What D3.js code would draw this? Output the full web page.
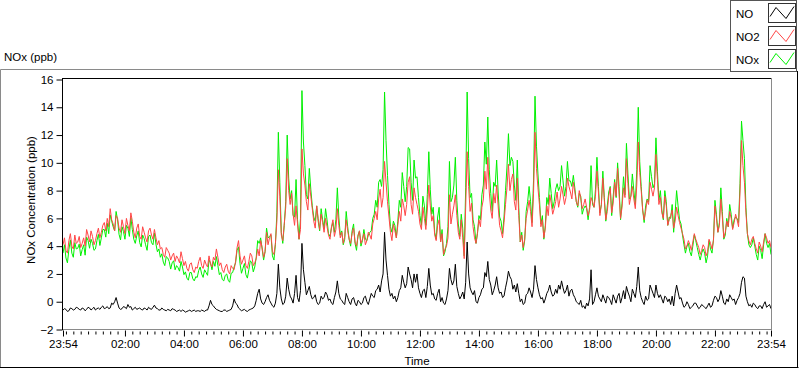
<!DOCTYPE html>
<html><head><meta charset="utf-8">
<script src="https://cdn.jsdelivr.net/npm/d3@7"></script>
<style>
body{margin:0;background:#fff;}
svg{display:block;font-family:"Liberation Sans",Arial,sans-serif;}
</style></head><body>
<svg id="c" width="800" height="369"></svg>
<script>
const seriesNames = ["NO", "NO2", "NOx"];
const seriesColors = ["#000000", "#ff4646", "#00f000"];
const startClock = [23, 54];
const stepMinutes = 3; // samples alternate: *_a at 0,6,12.. min, *_b at 3,9,15.. min after 23:54
const yTicks = [-2, 0, 2, 4, 6, 8, 10, 12, 14, 16];
const xTickLabels = ["23:54","02:00","04:00","06:00","08:00","10:00","12:00","14:00","16:00","18:00","20:00","22:00","23:54"];
const titleText = "NOx (ppb)";
const yLabelText = "NOx Concentration (ppb)";
const xLabelText = "Time";

const NO_a = [
-0.6,-0.55,-0.65,-0.5,-0.55,-0.45,-0.6,-0.5,-0.55,-0.45,
-0.5,-0.6,-0.45,-0.4,-0.5,-0.35,-0.45,-0.2,0.3,-0.45,
-0.5,-0.4,-0.2,-0.35,-0.5,-0.55,-0.45,-0.6,-0.5,-0.4,
-0.55,-0.25,-0.5,-0.6,-0.55,-0.65,-0.6,-0.5,-0.6,-0.65,
-0.7,-0.65,-0.7,-0.6,-0.65,-0.7,-0.65,-0.6,-0.7,-0.6,
0.1,-0.3,-0.55,-0.65,-0.7,-0.6,-0.65,-0.55,0.2,-0.2,
-0.55,
-0.6,-0.65,-0.6,-0.5,-0.3,0.6,0.2,-0.2,0.3,0.1,
-0.3,-0.1,2.7,0.2,-0.1,1.7,0.4,-0.1,1.9,0.0,
4.2,1.4,0.8,0.5,0.3,0.0,-0.1,0.2,0.7,0.1,
-0.1,0.3,1.5,0.2,-0.1,0.6,0.0,0.2,-0.1,0.1,
-0.2,0.3,0.0,0.2,0.4,0.8,1.2,1.5,5.0,1.9,
0.4,0.2,0.0,0.8,1.9,1.0,2.5,1.6,2.0,2.0,
0.6,0.8,0.3,2.4,0.5,0.2,0.6,0.0,-0.1,0.2,
2.4,1.2,2.7,0.6,0.4,0.2,4.3,1.0,0.5,0.0,
0.3,0.9,2.1,2.9,1.2,0.8,1.8,0.6,0.3,1.0,
2.2,1.6,1.2,1.3,0.0,-0.2,0.5,1.0,0.3,2.6,
1.0,0.2,-0.1,0.6,1.2,0.4,0.9,1.2,1.5,0.6,
1.2,0.8,0.5,0.0,-0.2,-0.4,-0.5,-0.3,2.3,0.0,
1.0,0.2,0.5,-0.1,0.3,-0.2,0.2,0.4,-0.1,0.8,
1.1,0.4,0.9,0.3,2.5,0.3,-0.2,0.1,1.2,0.6,
1.2,0.3,0.2,0.4,0.0,-0.2,-0.3,1.2,0.2,-0.1,
-0.3,-0.2,-0.4,-0.1,-0.3,-0.4,-0.3,-0.5,-0.1,-0.3,
0.4,0.0,0.8,-0.1,0.2,0.5,0.1,-0.2,0.3,1.4,
1.7,0.0,-0.2,-0.1,-0.4,-0.3,-0.5,0.0,-0.3,-0.5
];
const NO_b = [
-0.5,-0.7,-0.45,-0.6,-0.4,-0.55,-0.45,-0.65,-0.4,-0.6,
-0.4,-0.5,-0.55,-0.3,-0.45,-0.5,-0.1,0.0,-0.1,-0.55,
-0.35,-0.5,-0.4,-0.6,-0.4,-0.5,-0.55,-0.45,-0.6,-0.5,
-0.4,-0.45,-0.6,-0.45,-0.6,-0.55,-0.65,-0.55,-0.7,-0.6,
-0.6,-0.75,-0.65,-0.7,-0.6,-0.65,-0.7,-0.65,-0.6,-0.3,
-0.2,-0.45,-0.6,-0.7,-0.6,-0.7,-0.6,-0.3,-0.1,-0.45,
-0.65,-0.55,-0.7,-0.55,-0.45,0.1,0.9,-0.1,0.0,0.5,
-0.1,-0.4,0.6,1.0,-0.2,0.4,0.9,0.2,0.6,0.3,
0.8,2.3,0.5,1.1,0.2,0.5,-0.2,0.4,0.3,0.5,
0.2,-0.2,0.7,0.6,0.1,-0.2,0.3,-0.2,0.3,-0.3,
0.0,-0.1,0.4,-0.2,0.6,0.3,0.9,0.7,2.0,3.0,
0.9,0.6,0.4,0.3,1.0,1.4,1.3,2.0,1.0,1.4,
1.0,0.3,0.9,1.1,1.2,0.6,0.1,0.9,0.3,-0.2,
0.8,1.6,1.5,1.1,0.2,0.7,1.4,2.0,0.7,0.8,
-0.1,0.5,1.0,1.8,1.6,0.5,1.2,1.0,0.7,0.4,
1.5,1.8,0.9,0.7,0.6,0.2,-0.1,0.6,0.7,0.9,
1.6,0.5,0.3,0.2,0.8,0.7,0.5,0.6,0.9,1.0,
0.8,0.4,0.9,0.3,-0.1,0.1,-0.3,-0.1,0.2,-0.2,
0.5,0.4,0.0,0.2,0.4,0.1,0.5,-0.1,0.6,0.3,
0.2,0.7,0.0,0.6,1.1,0.8,0.0,0.4,0.2,0.9,
0.3,0.6,0.5,-0.1,0.3,0.2,0.4,0.6,0.7,0.3,
-0.4,0.0,-0.5,-0.3,-0.1,-0.5,-0.2,-0.4,-0.3,-0.4,
0.1,0.3,0.2,0.4,-0.2,0.0,0.3,0.2,0.1,0.6,
1.8,0.4,-0.3,-0.4,-0.2,-0.5,-0.3,-0.2,-0.4,-0.2
];

const NO2_a = [
4.1,3.7,4.4,4.0,4.8,4.3,3.9,4.6,5.2,4.3,
4.7,4.4,5.3,5.0,5.7,6.0,6.7,5.6,6.2,5.3,
5.9,4.9,5.5,6.4,5.0,5.3,4.7,5.4,4.6,5.1,
4.8,5.2,4.1,3.8,3.4,3.9,3.5,3.3,2.9,3.1,
3.6,2.6,2.4,2.7,2.3,2.5,2.9,2.6,3.0,2.5,
2.7,3.2,3.8,2.6,2.3,2.5,2.2,2.6,2.3,3.9,
3.3,
3.0,2.6,2.9,3.3,2.8,3.8,4.4,3.2,5.0,4.6,
3.6,4.2,9.5,4.8,5.6,10.3,7.0,6.3,6.9,4.5,
11.0,8.4,6.6,7.6,5.8,6.9,5.2,5.7,6.0,4.8,
5.4,4.7,6.7,4.6,4.2,5.9,4.5,4.9,4.3,4.7,
4.2,4.9,4.4,4.8,5.6,6.5,7.4,6.8,10.1,7.2,
5.0,5.6,4.6,6.5,7.4,6.2,8.6,7.0,8.2,7.0,
5.6,6.8,5.2,8.4,5.8,4.8,5.5,4.3,3.4,4.0,
7.7,6.3,7.7,5.0,5.9,3.1,10.8,6.5,5.4,4.2,
5.9,6.8,9.4,10.4,6.6,7.8,8.4,5.5,4.6,7.0,
9.9,8.8,7.2,8.9,4.3,3.9,6.0,7.3,5.4,12.2,
8.2,5.4,4.6,6.9,7.7,6.3,7.2,6.8,8.3,7.0,
8.9,7.9,8.6,7.2,8.0,6.7,7.4,6.2,7.5,6.8,
9.4,6.2,8.9,5.9,7.6,6.4,8.6,9.6,6.0,8.2,
10.3,7.0,8.3,6.7,11.5,8.0,5.9,7.3,8.6,7.6,
10.6,7.0,6.4,7.6,5.5,6.2,5.3,6.8,5.7,4.9,
3.8,4.4,3.7,4.9,4.2,3.4,4.1,3.3,4.5,3.8,
6.9,5.0,7.4,4.6,5.8,6.5,5.2,6.3,5.4,11.6,
8.6,4.9,4.1,4.7,3.8,4.3,3.6,4.9,4.2,3.9
];
const NO2_b = [
4.6,3.5,4.9,3.8,4.2,4.7,4.2,4.0,4.8,5.1,
4.1,4.9,4.6,5.5,5.1,5.4,5.9,5.1,6.0,5.0,
5.4,6.0,5.1,5.8,4.6,5.6,4.5,5.0,4.3,5.3,
4.5,4.6,4.4,3.9,3.2,3.7,3.0,3.5,3.3,2.8,
3.1,2.9,2.2,2.8,2.1,2.4,3.2,2.4,2.7,3.3,
2.5,3.0,3.2,2.8,2.1,2.7,2.0,2.4,2.9,4.4,
2.7,3.3,2.4,3.5,2.6,3.1,3.3,3.9,3.6,4.1,
4.9,3.4,5.8,7.6,4.4,6.8,8.0,7.8,5.5,5.6,
5.2,9.2,7.2,8.5,6.7,5.3,6.0,6.3,5.0,5.4,
4.5,5.9,5.2,5.5,5.0,4.7,5.1,4.2,5.3,4.0,
5.1,4.5,4.1,5.0,4.5,6.0,5.9,8.1,7.5,8.6,
6.1,4.4,5.1,5.5,5.8,6.9,7.0,9.0,6.3,7.5,
6.5,5.2,6.0,6.6,6.9,6.2,4.4,5.9,4.9,3.8,
4.6,5.6,6.9,6.2,4.5,4.6,6.8,8.3,7.1,4.6,
5.0,5.4,7.4,8.1,7.9,6.0,7.1,6.9,5.1,5.7,
8.2,8.0,9.2,6.6,6.2,4.8,4.5,6.6,6.5,7.8,
9.6,7.0,5.9,5.3,6.2,7.1,6.7,7.9,7.4,7.7,
7.5,8.3,7.4,7.9,6.9,7.5,7.0,6.8,6.6,7.2,
7.6,7.9,7.0,7.3,6.5,8.2,7.1,7.6,7.7,6.8,
7.5,8.5,7.6,7.4,8.4,9.3,6.6,6.5,7.0,8.1,
8.2,8.8,7.5,6.0,6.9,5.9,6.6,5.8,6.2,5.3,
4.5,4.0,4.1,4.3,4.5,3.9,3.7,3.9,3.6,4.2,
4.4,6.0,5.5,6.1,5.0,5.4,6.0,5.7,5.9,7.9,
9.8,6.4,4.4,4.5,4.2,3.5,4.0,4.3,4.6,4.4
];

const NOx_a = [
3.5,3.15,3.75,3.5,4.25,3.85,3.3,4.1,4.65,3.85,
4.2,3.8,4.85,4.6,5.2,5.65,6.25,5.4,6.5,4.85,
5.4,4.5,5.3,6.05,4.5,4.75,4.25,4.8,4.1,4.7,
4.25,4.95,3.6,3.2,2.85,3.25,2.9,2.8,2.3,2.45,
2.9,1.95,1.7,2.1,1.65,1.8,2.25,2.0,2.3,1.9,
2.8,2.9,3.25,1.95,1.6,1.9,1.55,2.05,2.5,3.7,
2.75,
2.4,1.95,2.3,2.8,2.5,4.4,4.6,3.0,5.3,4.7,
3.3,4.1,12.2,5.0,5.5,12.0,7.4,6.2,8.8,4.5,
15.2,9.8,7.4,8.1,6.1,6.9,5.1,5.9,6.7,4.9,
5.3,5.0,8.2,4.8,4.1,6.5,4.5,5.1,4.2,4.8,
4.0,5.2,4.4,5.0,6.0,7.3,8.6,8.3,15.1,9.1,
5.4,5.8,4.6,7.3,9.3,7.2,11.1,8.6,10.2,9.0,
6.2,7.6,5.5,10.8,6.3,5.0,6.1,4.3,3.3,4.2,
10.1,7.5,10.4,5.6,6.3,3.3,15.1,7.5,5.9,4.2,
6.2,7.7,11.5,13.3,7.8,8.6,10.2,6.1,4.9,8.0,
12.1,10.4,8.4,10.2,4.3,3.7,6.5,8.3,5.7,14.8,
9.2,5.6,4.5,7.5,8.9,6.7,8.1,8.0,9.8,7.6,
10.1,8.7,9.1,7.2,7.8,6.3,6.9,5.9,9.8,6.8,
10.4,6.4,9.4,5.8,7.9,6.2,8.8,10.0,5.9,9.0,
11.4,7.4,9.2,7.0,14.0,8.3,5.7,7.4,9.8,8.2,
11.8,7.3,6.6,8.0,5.5,6.0,5.0,8.0,5.9,4.8,
3.5,4.2,3.3,4.8,3.9,3.0,3.8,2.8,4.4,3.5,
7.3,5.0,8.2,4.5,6.0,7.0,5.3,6.1,5.7,13.0,
10.3,4.9,3.9,4.6,3.4,4.0,3.1,4.9,3.9,3.4
];
const NOx_b = [
4.1,2.8,4.45,3.2,3.8,4.15,3.75,3.35,4.4,4.5,
3.7,4.4,4.05,5.2,4.65,4.9,5.8,5.1,5.9,4.45,
5.05,5.5,4.7,5.2,4.2,5.1,3.95,4.55,3.7,4.8,
4.1,4.15,3.8,3.45,2.6,3.15,2.35,2.95,2.6,2.2,
2.5,2.15,1.55,2.1,1.5,1.75,2.5,1.75,2.1,3.0,
2.3,2.55,2.6,2.1,1.5,2.0,1.4,2.1,2.8,3.95,
2.05,2.75,1.7,2.95,2.15,3.2,4.2,3.8,3.6,4.6,
4.8,3.0,6.4,8.6,4.2,7.2,8.9,8.0,6.1,5.9,
6.0,11.5,7.7,9.6,6.9,5.8,5.8,6.7,5.3,5.9,
4.7,5.7,5.9,6.1,5.1,4.5,5.4,4.0,5.6,3.7,
5.1,4.4,4.5,4.8,5.1,6.3,6.8,8.8,9.5,11.6,
7.0,5.0,5.5,5.8,6.8,8.3,8.3,11.0,7.3,8.9,
7.5,5.5,6.9,7.7,8.1,6.8,4.5,6.8,5.2,3.6,
5.4,7.2,8.4,7.3,4.7,5.3,8.2,10.3,7.8,5.4,
4.9,5.9,8.4,9.9,9.5,6.5,8.3,7.9,5.8,6.1,
9.7,9.8,10.1,7.3,6.8,5.0,4.4,7.2,7.2,8.7,
11.2,7.5,6.2,5.5,7.0,7.8,7.2,8.5,8.3,8.7,
8.3,8.7,8.3,8.2,6.8,7.6,6.7,6.7,6.8,7.0,
8.1,8.3,7.0,7.5,6.9,8.3,7.6,7.5,8.3,7.1,
7.7,9.2,7.6,8.0,9.5,10.1,6.6,6.9,7.2,9.0,
8.5,9.4,8.0,5.9,7.2,6.1,7.0,6.4,6.9,5.6,
4.1,4.0,3.6,4.0,4.4,3.4,3.5,3.5,3.3,3.8,
4.5,6.3,5.7,6.5,4.8,5.4,6.3,5.9,6.0,8.5,
11.6,6.8,4.1,4.1,4.0,3.0,3.7,4.1,4.2,4.2
];

function interleave(a, b) {
  const out = [];
  a.forEach((v, i) => { out.push(v); if (i < b.length) out.push(b[i]); });
  return out;
}
const NO = interleave(NO_a, NO_b);
const NO2 = interleave(NO2_a, NO2_b);
const NOx = interleave(NOx_a, NOx_b);

const svg = d3.select("#c");
const t0 = new Date(2000, 0, 1, startClock[0], startClock[1]);
const tEnd = d3.timeHour.offset(t0, 24);
const times = NO.map((_, i) => d3.timeMinute.offset(t0, i * stepMinutes));

const x = d3.scaleTime().domain([t0, tEnd]).range([63, 771]);
const y = d3.scaleLinear().domain([-2, 16]).range([329.5, 79.5]);

// outer panel
svg.append("line").attr("x1",0.5).attr("y1",69.5).attr("x2",731).attr("y2",69.5).attr("stroke","#8a8a8a");
svg.append("line").attr("x1",0.5).attr("y1",69.5).attr("x2",0.5).attr("y2",368).attr("stroke","#8a8a8a");
svg.append("line").attr("x1",0).attr("y1",367.5).attr("x2",798.5).attr("y2",367.5).attr("stroke","#000");
svg.append("line").attr("x1",797.5).attr("y1",71).attr("x2",797.5).attr("y2",368).attr("stroke","#000");

// title
svg.append("text").attr("x",4).attr("y",61).attr("font-size",11.5).attr("fill","#000").text(titleText);

// plot frame
svg.append("line").attr("x1",62).attr("y1",78.5).attr("x2",772).attr("y2",78.5).attr("stroke","#000");
svg.append("line").attr("x1",771.5).attr("y1",78).attr("x2",771.5).attr("y2",330).attr("stroke","#8a8a8a");
svg.append("line").attr("x1",62).attr("y1",329.5).attr("x2",772).attr("y2",329.5).attr("stroke","#8a8a8a");
svg.append("line").attr("x1",62.5).attr("y1",78).attr("x2",62.5).attr("y2",330).attr("stroke","#000");

svg.append("clipPath").attr("id","clip").append("rect").attr("x",63).attr("y",79).attr("width",708).attr("height",250);

// series: NOx first, then NO2, then NO
const line = d3.line().x((d, i) => x(times[i])).y(d => y(d));
const g = svg.append("g").attr("clip-path","url(#clip)");
[[NOx, seriesColors[2]], [NO2, seriesColors[1]], [NO, seriesColors[0]]].forEach(([arr, col]) => {
  g.append("path").datum(arr).attr("d", line).attr("fill","none").attr("stroke", col).attr("stroke-width",1);
});

// y axis
const yAxis = d3.axisLeft(y).tickValues(yTicks).tickSize(6).tickPadding(3).tickFormat(d3.format("d"));
const ya = svg.append("g").attr("transform","translate(62.5,0)").call(yAxis);
ya.select(".domain").remove();
ya.selectAll("text").attr("font-size",11.5).attr("fill","#000").attr("font-family","Liberation Sans, Arial, sans-serif");
ya.selectAll("line").attr("stroke","#000");

// x axis major
const majorTimes = [t0].concat(d3.range(1, 12).map(k => d3.timeHour.offset(new Date(2000,0,2,0,0), 2*k)), [tEnd]);
const xAxis = d3.axisBottom(x).tickValues(majorTimes).tickSize(6).tickPadding(3)
  .tickFormat((d, i) => xTickLabels[i]);
const xa = svg.append("g").attr("transform","translate(0,330.5)").call(xAxis);
xa.select(".domain").remove();
xa.selectAll("text").attr("font-size",11.5).attr("fill","#000").attr("font-family","Liberation Sans, Arial, sans-serif");
xa.selectAll("line").attr("stroke","#000");

// minor ticks
const minorTimes = d3.timeMinute.every(15).range(new Date(2000,0,2,0,0), tEnd).filter(d => !(d.getMinutes() === 0 && d.getHours() % 2 === 0 && d.getHours() !== 0));
const xm = svg.append("g").attr("transform","translate(0,331.5)").call(d3.axisBottom(x).tickValues(minorTimes).tickSize(3).tickFormat(""));
xm.select(".domain").remove();
xm.selectAll("line").attr("stroke","#000");

// axis labels
svg.append("text").attr("transform","translate(35,200) rotate(-90)").attr("text-anchor","middle")
  .attr("font-size",11.5).attr("fill","#000").text(yLabelText);
svg.append("text").attr("x",417).attr("y",365).attr("text-anchor","middle")
  .attr("font-size",11.5).attr("fill","#000").text(xLabelText);

// legend
const lg = svg.append("g");
lg.append("rect").attr("x",730.5).attr("y",0.5).attr("width",66).attr("height",71).attr("fill","#fff").attr("stroke","#555");
const legendY = [3.5, 26.5, 49.5];
seriesNames.forEach((name, k) => {
  const yy = legendY[k];
  lg.append("text").attr("x",736).attr("y",yy+14).attr("font-size",11.5).attr("fill","#000").text(name);
  lg.append("rect").attr("x",768.5).attr("y",yy).attr("width",27).attr("height",19).attr("fill","#fff").attr("stroke","#333");
  const pts = [[770,yy+13],[776,yy+4],[786,yy+15],[794,yy+3]];
  lg.append("path").attr("d", d3.line()(pts)).attr("fill","none").attr("stroke", seriesColors[k]).attr("stroke-width",1);
});
</script>
</body></html>
